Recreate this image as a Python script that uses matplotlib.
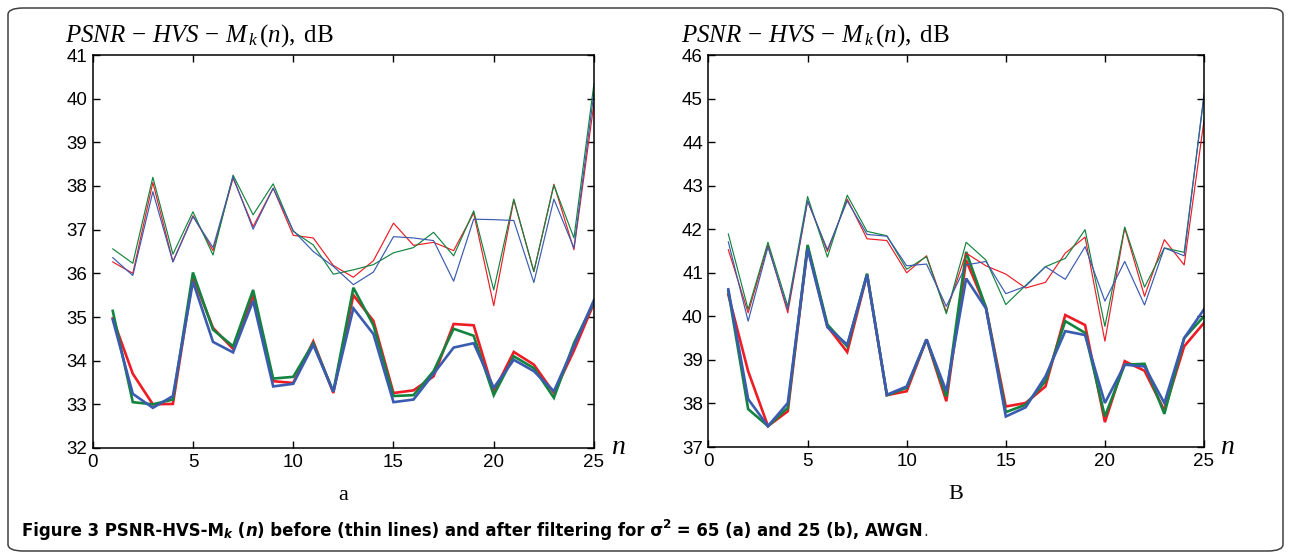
import matplotlib
matplotlib.use("Agg")
import matplotlib.pyplot as plt
from matplotlib.patches import FancyBboxPatch

# ---------------- data ----------------
n = list(range(1, 26))

left_thin_red = [36.26, 36.00, 38.08, 36.27, 37.32, 36.52, 38.18, 37.07, 37.95, 36.87, 36.81, 36.18, 35.91,
                 36.29, 37.15, 36.64, 36.71, 36.52, 37.38, 35.26, 37.68, 36.04, 38.04, 36.54, 39.90]
left_thin_green = [36.56, 36.23, 38.20, 36.44, 37.41, 36.42, 38.25, 37.34, 38.05, 36.96, 36.65, 35.98, 36.08,
                   36.20, 36.47, 36.59, 36.94, 36.40, 37.43, 35.62, 37.70, 36.04, 38.02, 36.81, 40.35]
left_thin_blue = [36.36, 35.95, 37.87, 36.26, 37.30, 36.59, 38.21, 37.01, 37.95, 36.98, 36.50, 36.16, 35.74,
                  36.03, 36.84, 36.81, 36.75, 35.82, 37.24, 37.23, 37.21, 35.79, 37.70, 36.58, 40.15]

left_bold_red = [34.97, 33.70, 33.00, 33.01, 35.92, 34.75, 34.27, 35.50, 33.53, 33.49, 34.44, 33.26, 35.50,
                 34.91, 33.26, 33.32, 33.64, 34.84, 34.81, 33.29, 34.20, 33.91, 33.26, 34.23, 35.32]
left_bold_green = [35.14, 33.05, 33.00, 33.11, 36.02, 34.71, 34.33, 35.62, 33.59, 33.63, 34.40, 33.29, 35.67,
                   34.81, 33.19, 33.21, 33.76, 34.73, 34.57, 33.21, 34.10, 33.83, 33.15, 34.40, 35.35]
left_bold_blue = [34.94, 33.24, 32.92, 33.19, 35.81, 34.43, 34.19, 35.37, 33.41, 33.47, 34.36, 33.29, 35.20,
                  34.61, 33.05, 33.11, 33.70, 34.30, 34.40, 33.38, 34.02, 33.76, 33.30, 34.33, 35.39]

right_thin_red = [41.53, 40.08, 41.64, 40.08, 42.65, 41.49, 42.69, 41.78, 41.74, 41.00, 41.39, 40.10, 41.45,
                  41.16, 40.97, 40.65, 40.78, 41.45, 41.82, 39.43, 42.03, 40.46, 41.76, 41.18, 44.50]
right_thin_green = [41.89, 40.16, 41.70, 40.23, 42.75, 41.36, 42.78, 41.95, 41.85, 41.08, 41.37, 40.06, 41.70,
                    41.29, 40.27, 40.71, 41.14, 41.33, 41.99, 39.77, 42.05, 40.67, 41.57, 41.47, 45.05]
right_thin_blue = [41.71, 39.89, 41.59, 40.16, 42.65, 41.53, 42.65, 41.88, 41.84, 41.16, 41.20, 40.23, 41.18,
                   41.26, 40.52, 40.69, 41.14, 40.85, 41.60, 40.35, 41.26, 40.26, 41.57, 41.39, 45.10]

right_bold_red = [40.50, 38.74, 37.48, 37.82, 41.60, 39.77, 39.18, 40.96, 38.19, 38.28, 39.47, 38.05, 41.29,
                  40.20, 37.93, 38.01, 38.39, 40.03, 39.80, 37.57, 38.97, 38.75, 37.84, 39.31, 39.85]
right_bold_green = [40.58, 37.87, 37.48, 37.90, 41.64, 39.81, 39.31, 40.98, 38.19, 38.36, 39.47, 38.16, 41.48,
                    40.20, 37.80, 37.97, 38.51, 39.89, 39.62, 37.70, 38.89, 38.91, 37.76, 39.50, 40.00]
right_bold_blue = [40.62, 38.10, 37.48, 38.01, 41.55, 39.75, 39.35, 40.95, 38.20, 38.39, 39.47, 38.28, 40.87,
                   40.18, 37.70, 37.91, 38.62, 39.66, 39.57, 38.01, 38.89, 38.85, 38.01, 39.50, 40.16]

x_ticks = [0, 5, 10, 15, 20, 25]
left_yticks = list(range(32, 42))
right_yticks = list(range(37, 47))
panel_labels = ["a", "B"]
y_title = r"$PSNR\,-\,HVS\,-\,M_{\,k}\,(n),\;\mathrm{dB}$"
caption_parts = [
    ("Figure 3 PSNR-HVS-M", "normal", 0),
    ("k", "italic", -1),
    (" (", "normal", 0),
    ("n", "italic", 0),
    (") before (thin lines) and after filtering for σ", "normal", 0),
    ("2", "normal", 1),
    (" = 65 (a) and 25 (b), AWGN", "normal", 0),
]

# ---------------- style ----------------
RED = "#ee1c24"
GREEN = "#13843f"
BLUE = "#3a5bb0"

plt.rcParams["mathtext.fontset"] = "custom"
plt.rcParams["mathtext.rm"] = "Liberation Serif"
plt.rcParams["mathtext.it"] = "Liberation Serif:italic"
plt.rcParams["font.family"] = "Liberation Sans"

W, H = 1290, 555
fig = plt.figure(figsize=(W / 100, H / 100), dpi=100)

# rounded frame
frame = FancyBboxPatch((8 / W, 4 / H), (1283 - 8) / W, (547 - 4) / H,
                       boxstyle="round,pad=0,rounding_size=0.012",
                       transform=fig.transFigure, fill=False, edgecolor="#404040", linewidth=1.1)
fig.patches.append(frame)


def px_axes(x0, x1, ytop, ybot):
    return fig.add_axes([x0 / W, (H - ybot) / H, (x1 - x0) / W, (ybot - ytop) / H])


ax1 = px_axes(92.7, 594, 55, 448)
ax2 = px_axes(708.5, 1204, 55, 447)

panels = [
    (ax1, (left_thin_red, left_thin_green, left_thin_blue),
     (left_bold_red, left_bold_green, left_bold_blue), left_yticks),
    (ax2, (right_thin_red, right_thin_green, right_thin_blue),
     (right_bold_red, right_bold_green, right_bold_blue), right_yticks),
]

for i, (ax, thin, bold, yt) in enumerate(panels):
    for data, c in zip(bold, (RED, GREEN, BLUE)):
        ax.plot(n, data, color=c, linewidth=1.9, solid_joinstyle="miter")
    for data, c in zip(thin, (RED, GREEN, BLUE)):
        ax.plot(n, data, color=c, linewidth=0.85)
    ax.set_xlim(0, 25)
    ax.set_ylim(yt[0], yt[-1])
    ax.set_xticks(x_ticks)
    ax.set_yticks(yt)
    ax.tick_params(direction="in", top=True, right=True, length=5, width=1.0,
                   labelsize=13.5, pad=4, colors="black")
    for sp in ax.spines.values():
        sp.set_linewidth(1.1)
    ax.text(-0.056, 1.05, y_title, transform=ax.transAxes, fontsize=18,
            ha="left", va="center")
    ax.text(1.047, 0.0, "n", transform=ax.transAxes, fontsize=20,
            family="Liberation Serif", style="italic", ha="center", va="center")
    ax.text(0.5, -0.12, panel_labels[i], transform=ax.transAxes, fontsize=16,
            family="Liberation Serif", ha="center", va="center")

# caption composed of pieces (condensed bold sans)
fig.canvas.draw()
renderer = fig.canvas.get_renderer()
target_width = 932 - 22
CAP_Y = 531


def place_caption(fs):
    x = 22.0
    arts = []
    for txt, sty, shift in caption_parts:
        size = fs * (0.72 if shift != 0 else 1.0)
        dy = {0: 0.0, -1: 4.0, 1: -6.0}[shift]
        t = fig.text(x / W, (H - CAP_Y - dy) / H, txt, fontsize=size, family="DejaVu Sans",
                     fontstretch="condensed", weight="bold", style=sty, ha="left", va="center")
        bb = t.get_window_extent(renderer)
        x += bb.width
        arts.append(t)
    t = fig.text(x / W, (H - CAP_Y) / H, ".", fontsize=fs * 0.9, family="DejaVu Sans",
                 fontstretch="condensed", ha="left", va="center", color="#333333")
    arts.append(t)
    return x, arts


fs = 14.0
width_end, arts = place_caption(fs)
scale = target_width / (width_end - 22.0)
for a in arts:
    a.remove()
place_caption(fs * scale)

fig.savefig("out.png", dpi=100)
